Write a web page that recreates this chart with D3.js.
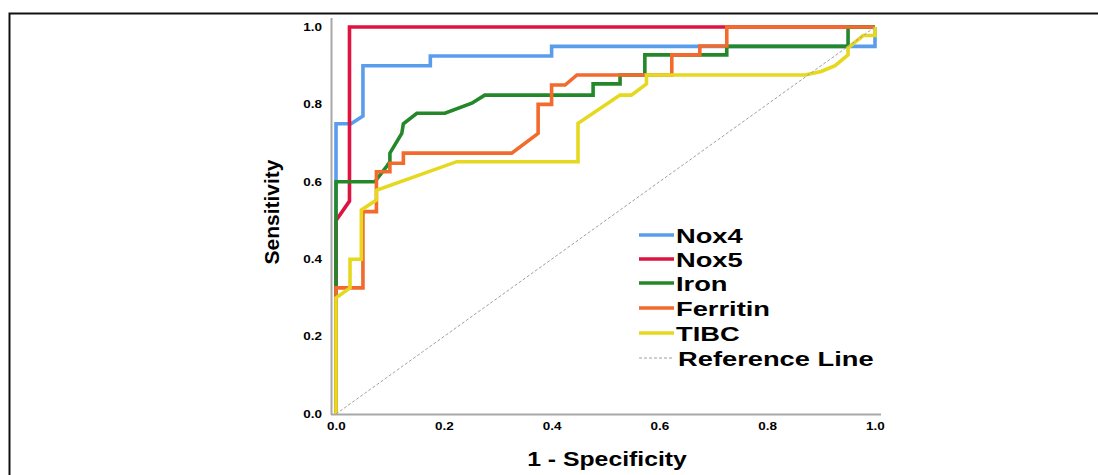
<!DOCTYPE html>
<html>
<head>
<meta charset="utf-8">
<script src="https://cdn.jsdelivr.net/npm/d3@7"></script>
<style>
  html, body { margin: 0; padding: 0; background: #fff; }
  svg { display: block; }
  text { font-family: "Liberation Sans", Arial, sans-serif; font-weight: bold; fill: #000; }
</style>
</head>
<body>
<svg id="chart" width="1098" height="475"></svg>
<script>
// ---- data (1 - specificity, sensitivity) ----
const seriesNames = ["Nox4", "Nox5", "Iron", "Ferritin", "TIBC"];
const seriesColors = ["#5b9ded", "#dd1340", "#24882a", "#f26a2c", "#e6d81e"];

const nox4 = [[0,0],[0,0.75],[0.028,0.75],[0.05,0.77],[0.05,0.90],[0.175,0.90],[0.175,0.925],
  [0.40,0.925],[0.40,0.95],[1.0,0.95],[1.0,1.0]];
const nox5 = [[0,0],[0,0.50],[0.025,0.55],[0.025,1.0],[1.0,1.0]];
const iron = [[0,0],[0,0.60],[0.072,0.60],[0.094,0.64],[0.10,0.652],[0.10,0.674],[0.122,0.725],
  [0.125,0.75],[0.15,0.777],[0.202,0.777],[0.252,0.803],[0.276,0.824],[0.477,0.824],[0.477,0.853],
  [0.527,0.853],[0.527,0.876],[0.573,0.876],[0.573,0.928],[0.725,0.928],[0.725,0.95],[0.95,0.95],
  [0.95,1.0],[1.0,1.0]];
const ferritin = [[0,0],[0,0.326],[0.05,0.326],[0.05,0.523],[0.075,0.523],[0.075,0.626],[0.10,0.626],
  [0.10,0.648],[0.125,0.648],[0.125,0.674],[0.326,0.674],[0.375,0.725],[0.375,0.80],[0.40,0.80],
  [0.40,0.85],[0.425,0.85],[0.447,0.876],[0.623,0.876],[0.623,0.928],[0.675,0.928],[0.675,0.951],
  [0.725,0.951],[0.725,1.0],[1.0,1.0]];
const tibc = [[0,0],[0,0.30],[0.026,0.326],[0.026,0.40],[0.047,0.40],[0.047,0.527],[0.075,0.553],
  [0.075,0.578],[0.224,0.652],[0.449,0.652],[0.449,0.751],[0.527,0.824],[0.548,0.824],[0.576,0.853],
  [0.576,0.876],[0.87,0.876],[0.90,0.885],[0.926,0.90],[0.95,0.928],[0.95,0.946],[0.978,0.978],
  [1.0,0.978],[1.0,1.0]];
const seriesData = [nox4, nox5, iron, ferritin, tibc];

const refLine = [[0,0],[1,1]];
const tickValues = [0, 0.2, 0.4, 0.6, 0.8, 1.0];
const xTitle = "1 - Specificity";
const yTitle = "Sensitivity";
const refLabel = "Reference Line";

// ---- drawing ----
const svg = d3.select("#chart");

// helper: horizontally stretched text
function stretchedText(parent, px, py, str, size, sx, anchor) {
  return parent.append("text")
    .attr("transform", `translate(${px},${py}) scale(${sx},1)`)
    .attr("text-anchor", anchor || "start")
    .attr("font-size", size).text(str);
}

// outer frame
svg.append("path")
  .attr("d", "M9.5,475 L9.5,13.5 L1098,13.5")
  .attr("fill", "none").attr("stroke", "#111").attr("stroke-width", 2);

const x = d3.scaleLinear().domain([0, 1]).range([336, 875]);
const y = d3.scaleLinear().domain([0, 1]).range([414, 27]);

// axis lines
svg.append("line").attr("x1", 331.5).attr("x2", 331.5).attr("y1", 18).attr("y2", 415)
  .attr("stroke", "#a8a8a8").attr("stroke-width", 2);
svg.append("line").attr("x1", 331).attr("x2", 881).attr("y1", 414.5).attr("y2", 414.5)
  .attr("stroke", "#a8a8a8").attr("stroke-width", 2);

// tick labels via axes (no tick marks, no domain)
const fmt = d3.format(".1f");
const xAxis = svg.append("g").attr("transform", "translate(0,414)")
  .call(d3.axisBottom(x).tickValues(tickValues).tickFormat(fmt).tickSize(0).tickPadding(9));
const yAxis = svg.append("g").attr("transform", "translate(331,0)")
  .call(d3.axisLeft(y).tickValues(tickValues).tickFormat(fmt).tickSize(0).tickPadding(9));
[xAxis, yAxis].forEach(g => {
  g.select(".domain").remove();
  g.selectAll(".tick text")
    .attr("font-size", 10).attr("font-weight", "bold").attr("fill", "#111")
    .attr("font-family", "'Liberation Sans', Arial, sans-serif");
});
// stretch tick label glyphs horizontally around their anchor
xAxis.selectAll(".tick text").attr("transform", "scale(1.35,1)");
yAxis.selectAll(".tick text").each(function() {
  const t = d3.select(this);
  const xx = +t.attr("x");
  t.attr("x", xx / 1.35).attr("transform", "scale(1.35,1)");
});

// curves
const line = d3.line().x(d => x(d[0])).y(d => y(d[1]));
seriesData.forEach((data, i) => {
  svg.append("path").datum(data).attr("d", line)
    .attr("fill", "none").attr("stroke", seriesColors[i]).attr("stroke-width", 3.6)
    .attr("stroke-linejoin", "miter").attr("stroke-linecap", "butt");
});

// reference line
svg.append("path").datum(refLine).attr("d", line)
  .attr("fill", "none").attr("stroke", "#a0a0a0").attr("stroke-width", 1)
  .attr("stroke-dasharray", "3,2");

// axis titles
stretchedText(svg, 607, 466, xTitle, 21, 1.18, "middle");
svg.append("text").attr("transform", "translate(279,212) rotate(-90)")
  .attr("text-anchor", "middle").attr("font-size", 21).text(yTitle);

// legend
const legend = svg.append("g");
const rowY = [235, 259, 283, 308, 333, 358];
seriesNames.forEach((name, i) => {
  legend.append("line").attr("x1", 639).attr("x2", 674).attr("y1", rowY[i]).attr("y2", rowY[i])
    .attr("stroke", seriesColors[i]).attr("stroke-width", 3.6);
  stretchedText(legend, 676, rowY[i] + 7.5, name, 21, 1.3);
});
legend.append("line").attr("x1", 639).attr("x2", 674).attr("y1", rowY[5]).attr("y2", rowY[5])
  .attr("stroke", "#a0a0a0").attr("stroke-width", 1).attr("stroke-dasharray", "3,2");
stretchedText(legend, 678, rowY[5] + 7.5, refLabel, 21, 1.3);
</script>
</body>
</html>
